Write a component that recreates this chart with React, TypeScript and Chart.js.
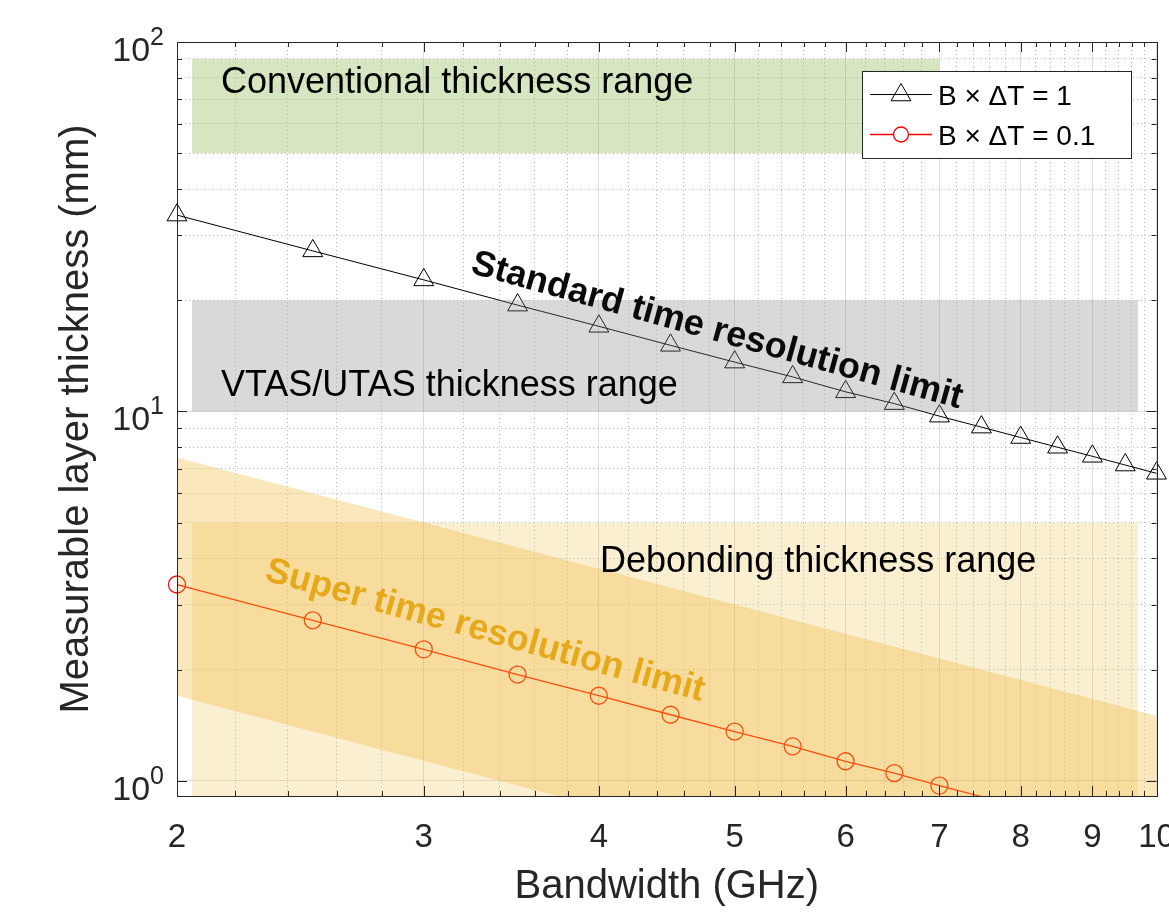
import React, { useEffect, useRef } from 'react';
import { Chart, registerables } from 'chart.js';

Chart.register(...registerables);

// ---------------- data ----------------
const bandwidthGHz = [2, 2.5, 3, 3.5, 4, 4.5, 5, 5.5, 6, 6.5, 7, 7.5, 8, 8.5, 9, 9.5, 10];
const thicknessStandard = [34, 27.2, 22.7, 19.4, 17.0, 15.1, 13.6, 12.4, 11.3, 10.5, 9.71, 9.07, 8.5, 8.0, 7.56, 7.16, 6.8];
const thicknessSuper = [3.4, 2.72, 2.27, 1.94, 1.7, 1.51, 1.36, 1.24, 1.13, 1.05, 0.971, 0.907, 0.85, 0.8, 0.756, 0.716, 0.68];

const xMajorTicks = [2, 3, 4, 5, 6, 7, 8, 9, 10];
const xTickLabels = ['2', '3', '4', '5', '6', '7', '8', '9', '10'];
const xMinorTicks = [2.2, 2.4, 2.6, 2.8, 3.2, 3.4, 3.6, 3.8, 4.2, 4.4, 4.6, 4.8, 5.2, 5.4, 5.6, 5.8, 6.2, 6.4, 6.6, 6.8, 7.2, 7.4, 7.6, 7.8, 8.2, 8.4, 8.6, 8.8, 9.2, 9.4, 9.6, 9.8];
const yMajorTicks = [1, 10, 100];
const yTickExponents = ['0', '1', '2'];
const yMinorTicks = [2, 3, 4, 5, 6, 7, 8, 9, 20, 30, 40, 50, 60, 70, 80, 90];

const X_MIN = 2;
const X_MAX = 10;
const Y_MIN = 0.91;
const Y_MAX = 100;

const conventionalBandX = [2.05, 7];
const conventionalBandY = [50, 90];
const vtasBandX = [2.05, 9.7];
const vtasBandY = [10, 20];
const debondingBandX = [2.05, 9.7];
const debondingBandY = [0.5, 5];
const superBandX = [2, 10];
const superBandUpper = [7.5, 1.5];
const superBandLower = [1.7, 0.34];

const seriesLabels = ['B \u00d7 \u0394T = 1', 'B \u00d7 \u0394T = 0.1'];

const FONT = '"Liberation Sans", Arial, Helvetica, sans-serif';
const AXIS_COLOR = '#262626';

const toPoints = (xs: number[], ys: number[]) => xs.map((x, i) => ({ x, y: ys[i] }));

function drawTriangle(ctx: CanvasRenderingContext2D, x: number, y: number, r: number) {
  ctx.beginPath();
  for (let k = 0; k < 3; k++) {
    const a = (k * 2 * Math.PI) / 3;
    const px = x + Math.sin(a) * r;
    const py = y - Math.cos(a) * r;
    if (k === 0) ctx.moveTo(px, py);
    else ctx.lineTo(px, py);
  }
  ctx.closePath();
  ctx.stroke();
}

const overlayPlugin = {
  id: 'overlay',
  afterDraw(chart: any) {
    const ctx: CanvasRenderingContext2D = chart.ctx;
    const { left, right, top, bottom } = chart.chartArea;
    const xs = chart.scales.x;
    const ys = chart.scales.y;
    ctx.save();

    // ---- annotation texts ----
    ctx.fillStyle = '#000';
    ctx.font = `36px ${FONT}`;
    ctx.textAlign = 'left';
    ctx.textBaseline = 'alphabetic';
    ctx.fillText('Conventional thickness range', 221, 93);
    ctx.fillText('VTAS/UTAS thickness range', 221, 396);
    ctx.fillText('Debonding thickness range', 600, 572);

    const angle = (15.5 * Math.PI) / 180;
    ctx.save();
    ctx.translate(717, 331);
    ctx.rotate(angle);
    ctx.font = `bold 36px ${FONT}`;
    ctx.textAlign = 'center';
    ctx.textBaseline = 'middle';
    ctx.fillStyle = '#0a0a0a';
    ctx.fillText('Standard time resolution limit', 0, 0);
    ctx.restore();

    ctx.save();
    ctx.translate(485, 631);
    ctx.rotate(angle);
    ctx.font = `bold 36px ${FONT}`;
    ctx.textAlign = 'center';
    ctx.textBaseline = 'middle';
    ctx.fillStyle = '#E6A91C';
    ctx.fillText('Super time resolution limit', 0, 0);
    ctx.restore();

    // ---- frame ----
    ctx.strokeStyle = AXIS_COLOR;
    ctx.lineWidth = 1;
    ctx.strokeRect(Math.round(left) + 0.5, Math.round(top) + 0.5, Math.round(right - left), Math.round(bottom - top));

    // ---- inward tick marks ----
    const tickX = (v: number, len: number) => {
      const p = Math.round(xs.getPixelForValue(v)) + 0.5;
      ctx.beginPath();
      ctx.moveTo(p, bottom);
      ctx.lineTo(p, bottom - len);
      ctx.moveTo(p, top);
      ctx.lineTo(p, top + len);
      ctx.stroke();
    };
    const tickY = (v: number, len: number) => {
      const p = Math.round(ys.getPixelForValue(v)) + 0.5;
      ctx.beginPath();
      ctx.moveTo(left, p);
      ctx.lineTo(left + len, p);
      ctx.moveTo(right, p);
      ctx.lineTo(right - len, p);
      ctx.stroke();
    };
    xMajorTicks.forEach((v) => tickX(v, 10));
    xMinorTicks.forEach((v) => tickX(v, 5));
    yMajorTicks.forEach((v) => tickY(v, 10));
    yMinorTicks.forEach((v) => tickY(v, 5));

    // ---- tick labels ----
    ctx.fillStyle = AXIS_COLOR;
    ctx.font = `33px ${FONT}`;
    ctx.textAlign = 'center';
    ctx.textBaseline = 'alphabetic';
    xMajorTicks.forEach((v, i) => {
      ctx.fillText(xTickLabels[i], xs.getPixelForValue(v), 847);
    });
    yMajorTicks.forEach((v, i) => {
      const p = ys.getPixelForValue(v);
      ctx.textAlign = 'right';
      ctx.font = `25px ${FONT}`;
      const expRight = 164;
      ctx.fillText(yTickExponents[i], expRight, p + 3);
      const ew = ctx.measureText(yTickExponents[i]).width;
      ctx.font = `34px ${FONT}`;
      ctx.fillText('10', expRight - ew, p + 19);
    });

    // ---- axis titles ----
    ctx.font = `40px ${FONT}`;
    ctx.textAlign = 'center';
    ctx.textBaseline = 'alphabetic';
    ctx.fillText('Bandwidth (GHz)', (left + right) / 2, 898);
    ctx.save();
    ctx.translate(88, (top + bottom) / 2);
    ctx.rotate(-Math.PI / 2);
    ctx.fillText('Measurable layer thickness (mm)', 0, 0);
    ctx.restore();

    // ---- legend ----
    const lx = 862.5, ly = 71.5, lw = 269, lh = 87;
    ctx.fillStyle = '#ffffff';
    ctx.fillRect(lx, ly, lw, lh);
    ctx.strokeStyle = AXIS_COLOR;
    ctx.lineWidth = 1;
    ctx.strokeRect(lx, ly, lw, lh);

    const rows = [94, 134];
    // row 1
    ctx.strokeStyle = '#000';
    ctx.beginPath();
    ctx.moveTo(870, rows[0] + 0.5);
    ctx.lineTo(932, rows[0] + 0.5);
    ctx.stroke();
    drawTriangle(ctx, 901, rows[0] + 1, 11.5);
    // row 2
    ctx.strokeStyle = '#ff0000';
    ctx.lineWidth = 1.3;
    ctx.beginPath();
    ctx.moveTo(870, rows[1] + 0.5);
    ctx.lineTo(932, rows[1] + 0.5);
    ctx.stroke();
    ctx.beginPath();
    ctx.arc(901, rows[1] + 0.5, 7.5, 0, Math.PI * 2);
    ctx.fillStyle = '#fff';
    ctx.fill();
    ctx.stroke();

    ctx.fillStyle = '#000';
    ctx.font = `28px ${FONT}`;
    ctx.textAlign = 'left';
    ctx.textBaseline = 'alphabetic';
    ctx.fillText(seriesLabels[0], 938, rows[0] + 11);
    ctx.fillText(seriesLabels[1], 938, rows[1] + 11);

    ctx.restore();
  },
};

const zeroH = (s: any) => { s.height = 0; };
const zeroW = (s: any) => { s.width = 0; };

export default function App() {
  const canvasRef = useRef<HTMLCanvasElement>(null);

  useEffect(() => {
    const canvas = canvasRef.current;
    if (!canvas) return;

    const bandBase = { borderWidth: 0, pointRadius: 0, showLine: true, tension: 0, order: 0 };

    const chart = new Chart(canvas, {
      type: 'line',
      data: {
        datasets: [
          {
            label: seriesLabels[0],
            data: toPoints(bandwidthGHz, thicknessStandard),
            borderColor: '#000000',
            borderWidth: 1,
            pointStyle: 'triangle',
            pointRadius: 11.5,
            pointBorderColor: '#000000',
            pointBackgroundColor: 'rgba(0,0,0,0)',
            pointBorderWidth: 1,
            fill: false,
            tension: 0,
            order: 10,
            clip: { left: 16, right: 16, top: 16, bottom: 16 },
          } as any,
          {
            label: seriesLabels[1],
            data: toPoints(bandwidthGHz, thicknessSuper),
            borderColor: '#ff0000',
            borderWidth: 1.3,
            pointStyle: 'circle',
            pointRadius: (c: any) => (c.raw && c.raw.y < Y_MIN ? 0 : 8.5),
            pointBorderColor: '#ff0000',
            pointBackgroundColor: 'rgba(0,0,0,0)',
            pointBorderWidth: 1.3,
            fill: false,
            tension: 0,
            order: 10,
            clip: { left: 16, right: 16, top: 16, bottom: 0 },
          } as any,
          {
            ...bandBase,
            label: 'Conventional thickness range',
            data: toPoints(conventionalBandX, [conventionalBandY[1], conventionalBandY[1]]),
            fill: { value: conventionalBandY[0] },
            backgroundColor: 'rgba(119,172,48,0.3)',
          } as any,
          {
            ...bandBase,
            label: 'VTAS/UTAS thickness range',
            data: toPoints(vtasBandX, [vtasBandY[1], vtasBandY[1]]),
            fill: { value: vtasBandY[0] },
            backgroundColor: 'rgba(128,128,128,0.3)',
          } as any,
          {
            ...bandBase,
            label: 'Debonding thickness range',
            data: toPoints(debondingBandX, [debondingBandY[1], debondingBandY[1]]),
            fill: { value: debondingBandY[0] },
            backgroundColor: 'rgba(237,177,32,0.2)',
          } as any,
          {
            ...bandBase,
            label: 'Super band upper',
            data: toPoints(superBandX, superBandUpper),
            fill: '+1',
            backgroundColor: 'rgba(237,177,32,0.3)',
          } as any,
          {
            ...bandBase,
            label: 'Super band lower',
            data: toPoints(superBandX, superBandLower),
            fill: false,
            backgroundColor: 'rgba(0,0,0,0)',
          } as any,
        ],
      },
      options: {
        animation: false,
        responsive: false,
        maintainAspectRatio: false,
        devicePixelRatio: 1,
        events: [],
        parsing: false as any,
        layout: { padding: { left: 177, right: 11, top: 42, bottom: 123 } },
        plugins: {
          legend: { display: false },
          tooltip: { enabled: false },
          title: { display: false },
        },
        scales: {
          xMinor: {
            type: 'logarithmic',
            position: 'bottom',
            min: X_MIN,
            max: X_MAX,
            afterBuildTicks: (s: any) => { s.ticks = xMinorTicks.map((v) => ({ value: v })); },
            afterFit: zeroH,
            ticks: { display: false, autoSkip: false },
            grid: { color: 'rgba(0,0,0,0.28)', lineWidth: 1, drawTicks: false },
            border: { display: false, dash: [1, 3] },
          },
          yMinor: {
            type: 'logarithmic',
            position: 'left',
            min: Y_MIN,
            max: Y_MAX,
            afterBuildTicks: (s: any) => { s.ticks = yMinorTicks.map((v) => ({ value: v })); },
            afterFit: zeroW,
            ticks: { display: false, autoSkip: false },
            grid: { color: 'rgba(0,0,0,0.28)', lineWidth: 1, drawTicks: false },
            border: { display: false, dash: [1, 3] },
          },
          x: {
            type: 'logarithmic',
            position: 'bottom',
            min: X_MIN,
            max: X_MAX,
            afterBuildTicks: (s: any) => { s.ticks = xMajorTicks.map((v) => ({ value: v })); },
            afterFit: zeroH,
            ticks: { display: false, autoSkip: false },
            grid: { color: 'rgba(0,0,0,0.13)', lineWidth: 1, drawTicks: false },
            border: { display: false },
          },
          y: {
            type: 'logarithmic',
            position: 'left',
            min: Y_MIN,
            max: Y_MAX,
            afterBuildTicks: (s: any) => { s.ticks = yMajorTicks.map((v) => ({ value: v })); },
            afterFit: zeroW,
            ticks: { display: false, autoSkip: false },
            grid: { color: 'rgba(0,0,0,0.13)', lineWidth: 1, drawTicks: false },
            border: { display: false },
          },
        } as any,
      },
      plugins: [overlayPlugin],
    } as any);

    return () => chart.destroy();
  }, []);

  return (
    <div style={{ position: 'fixed', left: 0, top: 0, width: 1169, height: 919, background: '#ffffff', overflow: 'hidden' }}>
      <canvas ref={canvasRef} width={1169} height={919} style={{ display: 'block', width: 1169, height: 919 }} />
    </div>
  );
}
